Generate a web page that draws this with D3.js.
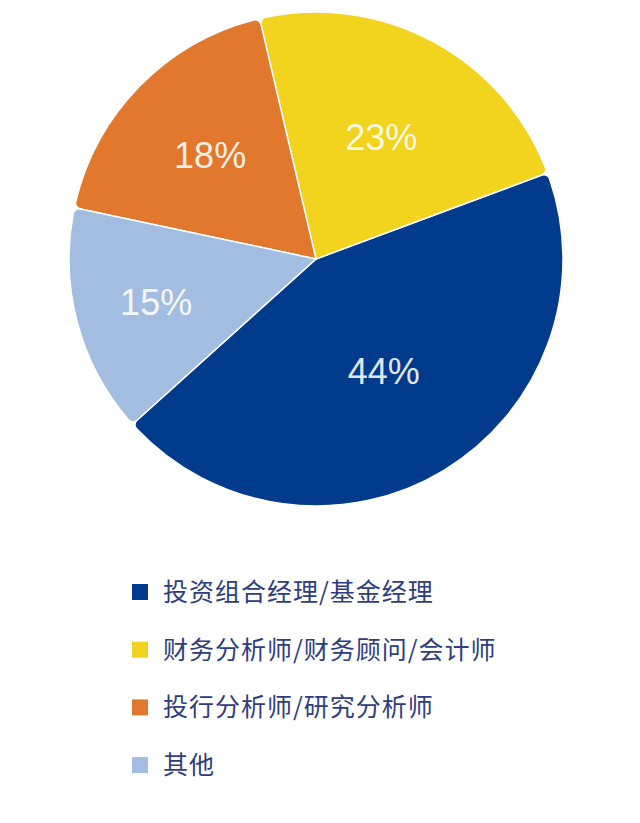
<!DOCTYPE html>
<html>
<head>
<meta charset="utf-8">
<script src="https://cdn.jsdelivr.net/npm/d3@7"></script>
<style>
  html, body { margin: 0; padding: 0; background: #fff; }
</style>
</head>
<body>
<script>
// categories in legend order, with their shares (%)
const categories = ["投资组合经理/基金经理", "财务分析师/财务顾问/会计师", "投行分析师/研究分析师", "其他"];
const shares = [44, 23, 18, 15];
const colors = ["#033b8c", "#f2d31d", "#e1782e", "#a3bde0"];
// label distance from centre, as fraction of radius
const labelRadius = [0.53, 0.56, 0.6, 0.67];

const width = 640, height = 823;
const cx = 316, cy = 259, radius = 247;

const svg = d3.select("body").append("svg")
    .attr("width", width)
    .attr("height", height);

const data = categories.map((c, i) => ({name: c, value: shares[i], i}));

// slices run counter-clockwise from the lower-left edge of the blue slice
const start = 228 * Math.PI / 180;
const pie = d3.pie()
    .sort(null)
    .value(d => d.value)
    .startAngle(start)
    .endAngle(start - 2 * Math.PI);

const arcs = pie(data);

const arc = d3.arc()
    .innerRadius(0)
    .outerRadius(radius)
    .cornerRadius(6);

const g = svg.append("g")
    .attr("transform", `translate(${cx},${cy})`);

g.selectAll("path")
  .data(arcs)
  .join("path")
    .attr("d", arc)
    .attr("fill", d => colors[d.data.i])
    .attr("stroke", "#fff")
    .attr("stroke-width", 1.5)
    .attr("stroke-linejoin", "round");

g.selectAll("text")
  .data(arcs)
  .join("text")
    .attr("transform", d => {
      const r = radius * labelRadius[d.data.i];
      const a = (d.startAngle + d.endAngle) / 2;
      return `translate(${Math.sin(a) * r},${-Math.cos(a) * r})`;
    })
    .attr("text-anchor", "middle")
    .attr("dy", "0.36em")
    .attr("font-family", "'Liberation Sans', Arial, sans-serif")
    .attr("font-size", 36)
    .attr("fill", "#fff")
    .attr("fill-opacity", 0.9)
    .text(d => d.data.value + "%");

// legend
const legend = svg.append("g")
    .attr("transform", "translate(132,592)");

const item = legend.selectAll("g")
  .data(data)
  .join("g")
    .attr("transform", (d, i) => `translate(0,${i * 57.7})`);

item.append("rect")
    .attr("x", 0)
    .attr("y", -8)
    .attr("width", 16)
    .attr("height", 16)
    .attr("fill", d => colors[d.i]);

item.append("text")
    .attr("x", 31)
    .attr("dy", "0.36em")
    .attr("font-family", "'Noto Sans CJK SC', sans-serif")
    .attr("font-size", 25)
    .attr("letter-spacing", 1)
    .attr("fill", "#2f3c80")
    .text(d => d.name);
</script>
</body>
</html>
